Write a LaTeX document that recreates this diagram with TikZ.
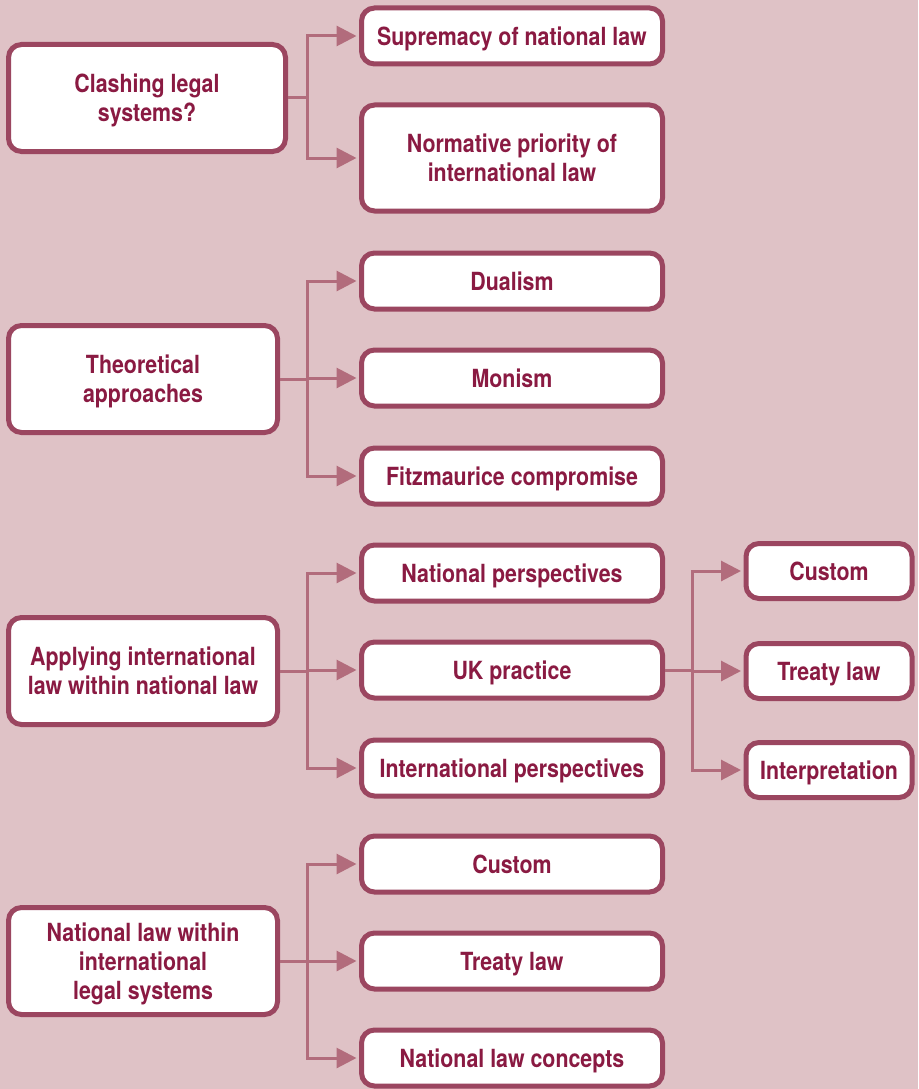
\documentclass[tikz,border=0pt]{standalone}
\usepackage{fontspec}
\setmainfont{TeX Gyre Heros}[FakeStretch=0.855]
\usetikzlibrary{arrows.meta}
\definecolor{bgpink}{HTML}{DFC2C6}
\definecolor{boxline}{HTML}{9B4660}
\definecolor{boxtext}{HTML}{8A1A42}
\definecolor{linkcol}{HTML}{B26C7C}
\tikzset{
  box/.style={draw=boxline, line width=5pt, fill=white, rounded corners=13pt,
    align=center, text=boxtext, font=\fontsize{25pt}{29pt}\selectfont\bfseries,
    inner sep=0pt, text depth=0pt},
  leftbox/.style={box, minimum width=269pt, minimum height=107pt},
  midbox/.style={box, minimum width=301pt, minimum height=56pt},
  rightbox/.style={box, minimum width=166pt, minimum height=55pt},
  link/.style={draw=linkcol, line width=3pt,
    -{Triangle[length=20pt,width=20pt]}, shorten >=2.5pt},
}
\begin{document}
\begin{tikzpicture}[x=1pt,y=-1pt]
  \fill[bgpink] (0,0) rectangle (918,1089);
  \useasboundingbox (0,0) rectangle (918,1089);

  % left column: main topics
  \node[leftbox, minimum width=277pt] (clash) at (147,98) {Clashing legal\\systems?};
  \node[leftbox] (theory) at (143,379) {Theoretical\\approaches};
  \node[leftbox] (apply) at (143,671) {Applying international\\law within national law};
  \node[leftbox] (natint) at (143,961) {National law within\\international\\legal systems};

  % middle column
  \node[midbox] (suprem) at (512,36) {Supremacy of national law};
  \node[midbox, minimum height=106pt] (normat) at (512,158) {Normative priority of\\international law};
  \node[midbox] (dual) at (512,281) {Dualism};
  \node[midbox] (monism) at (512,378) {Monism};
  \node[midbox] (fitz) at (512,476) {Fitzmaurice compromise};
  \node[midbox] (natpersp) at (512,573) {National perspectives};
  \node[midbox] (ukprac) at (512,670) {UK practice};
  \node[midbox] (intpersp) at (512,768) {International perspectives};
  \node[midbox] (custom) at (512,864) {Custom};
  \node[midbox] (treaty) at (512,961) {Treaty law};
  \node[midbox] (natconc) at (512,1058) {National law concepts};

  % right column: UK practice branches
  \node[rightbox] (ukcustom) at (829,571) {Custom};
  \node[rightbox] (uktreaty) at (829,671) {Treaty law};
  \node[rightbox] (ukinterp) at (829,770) {Interpretation};

  % trunk points of the branching connectors
  \coordinate (t1) at (307,98);
  \coordinate (t2) at (307,379);
  \coordinate (t3) at (307,671);
  \coordinate (t4) at (307,961);
  \coordinate (t5) at (692,670);

  \foreach \c in {suprem,normat}
    \draw[link] (clash.east) -- (t1) |- (\c.west);
  \foreach \c in {dual,monism,fitz}
    \draw[link] (theory.east) -- (t2) |- (\c.west);
  \foreach \c in {natpersp,ukprac,intpersp}
    \draw[link] (apply.east) -- (t3) |- (\c.west);
  \foreach \c in {custom,treaty,natconc}
    \draw[link] (natint.east) -- (t4) |- (\c.west);
  \foreach \c in {ukcustom,uktreaty,ukinterp}
    \draw[link] (ukprac.east) -- (t5) |- (\c.west);
\end{tikzpicture}
\end{document}
